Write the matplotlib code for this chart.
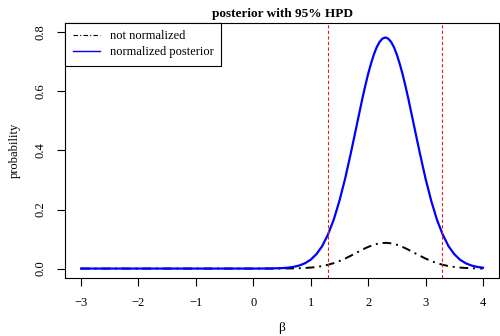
import numpy as np
import matplotlib
matplotlib.use("Agg")
import matplotlib.pyplot as plt
from matplotlib.lines import Line2D

plt.rcParams['font.family'] = ['Liberation Serif', 'DejaVu Serif']

# values
beta = [-3.0, -2.0, -1.0, 0.0, 0.3, 0.5, 0.6, 0.7, 0.8, 0.9, 1.0, 1.1, 1.2, 1.3,
        1.4, 1.5, 1.6, 1.7, 1.8, 1.85, 1.9, 1.95, 2.0, 2.05, 2.1, 2.15, 2.2,
        2.25, 2.3, 2.35, 2.4, 2.45, 2.5, 2.55, 2.6, 2.65, 2.7, 2.75, 2.8,
        2.9, 3.0, 3.1, 3.2, 3.3, 3.4, 3.5, 3.6, 3.7, 3.8, 3.9, 4.0]
normalized = [0.0, 0.0, 0.0, 0.0, 0.0003, 0.0015, 0.003, 0.0057, 0.0103, 0.018,
              0.030, 0.049, 0.076, 0.115, 0.165, 0.229, 0.305, 0.392, 0.484,
              0.530, 0.576, 0.619, 0.659, 0.694, 0.725, 0.750, 0.768, 0.779,
              0.783, 0.779, 0.768, 0.750, 0.725, 0.694, 0.659, 0.619, 0.576,
              0.530, 0.484, 0.392, 0.305, 0.229, 0.165, 0.115, 0.076, 0.049,
              0.030, 0.018, 0.0103, 0.0057, 0.003]
not_normalized = [0.0, 0.0, 0.0, 0.0, 0.0, 0.0002, 0.0003, 0.0006, 0.0011, 0.002,
                  0.0033, 0.0054, 0.0084, 0.0128, 0.0183, 0.0254, 0.0339, 0.0436,
                  0.0538, 0.0589, 0.064, 0.0688, 0.0732, 0.0771, 0.0806, 0.0833,
                  0.0853, 0.0866, 0.087, 0.0866, 0.0853, 0.0833, 0.0806, 0.0771,
                  0.0732, 0.0688, 0.064, 0.0589, 0.0538, 0.0436, 0.0339, 0.0254,
                  0.0183, 0.0128, 0.0084, 0.0054, 0.0033, 0.002, 0.0011, 0.0006,
                  0.0003]
hpd = [1.30, 3.28]

fig = plt.figure(figsize=(5.0, 3.36), dpi=100)
ax = fig.add_axes([0.13, 0.1726, 0.868, 0.759])

ax.plot(beta, not_normalized, color='black', lw=1.4,
        linestyle=(0, (4.5, 2.5, 1, 2.5)))
ax.plot(beta, normalized, color='blue', lw=1.6)
for h in hpd:
    ax.axvline(h, color='#dd2222', lw=0.8, linestyle=(0, (3, 2)))

ax.set_xlim(-3.28, 4.28)
ax.set_ylim(-0.032, 0.832)
ax.set_xticks(range(-3, 5))
ax.set_xticklabels(['\u22123', '\u22122', '\u22121', '0', '1', '2', '3', '4'])
ax.set_yticks([0.0, 0.2, 0.4, 0.6, 0.8])
ax.set_yticklabels(['0.0', '0.2', '0.4', '0.6', '0.8'], rotation=90, va='center')
ax.tick_params(direction='out', length=6, width=0.8, labelsize=9)
ax.tick_params(axis='x', pad=8)
ax.tick_params(axis='y', pad=7)
for s in ax.spines.values():
    s.set_linewidth(0.8)

ax.set_title('posterior with 95% HPD', fontsize=9.5, fontweight='bold', pad=4)
ax.set_xlabel('\u03b2', fontsize=9.5, labelpad=9)
ax.set_ylabel('probability', fontsize=9, labelpad=10)

handles = [Line2D([], [], color='black', lw=0.8, linestyle=(0, (4, 2, 1, 2))),
           Line2D([], [], color='blue', lw=1.0)]
leg = ax.legend(handles, ['not normalized', 'normalized posterior'],
                loc='upper left', borderaxespad=0, fontsize=9, fancybox=False,
                framealpha=1, edgecolor='black', handlelength=2.2,
                borderpad=0.6, labelspacing=0.3)
leg.get_frame().set_linewidth(0.8)

fig.savefig('out.png', dpi=100)
